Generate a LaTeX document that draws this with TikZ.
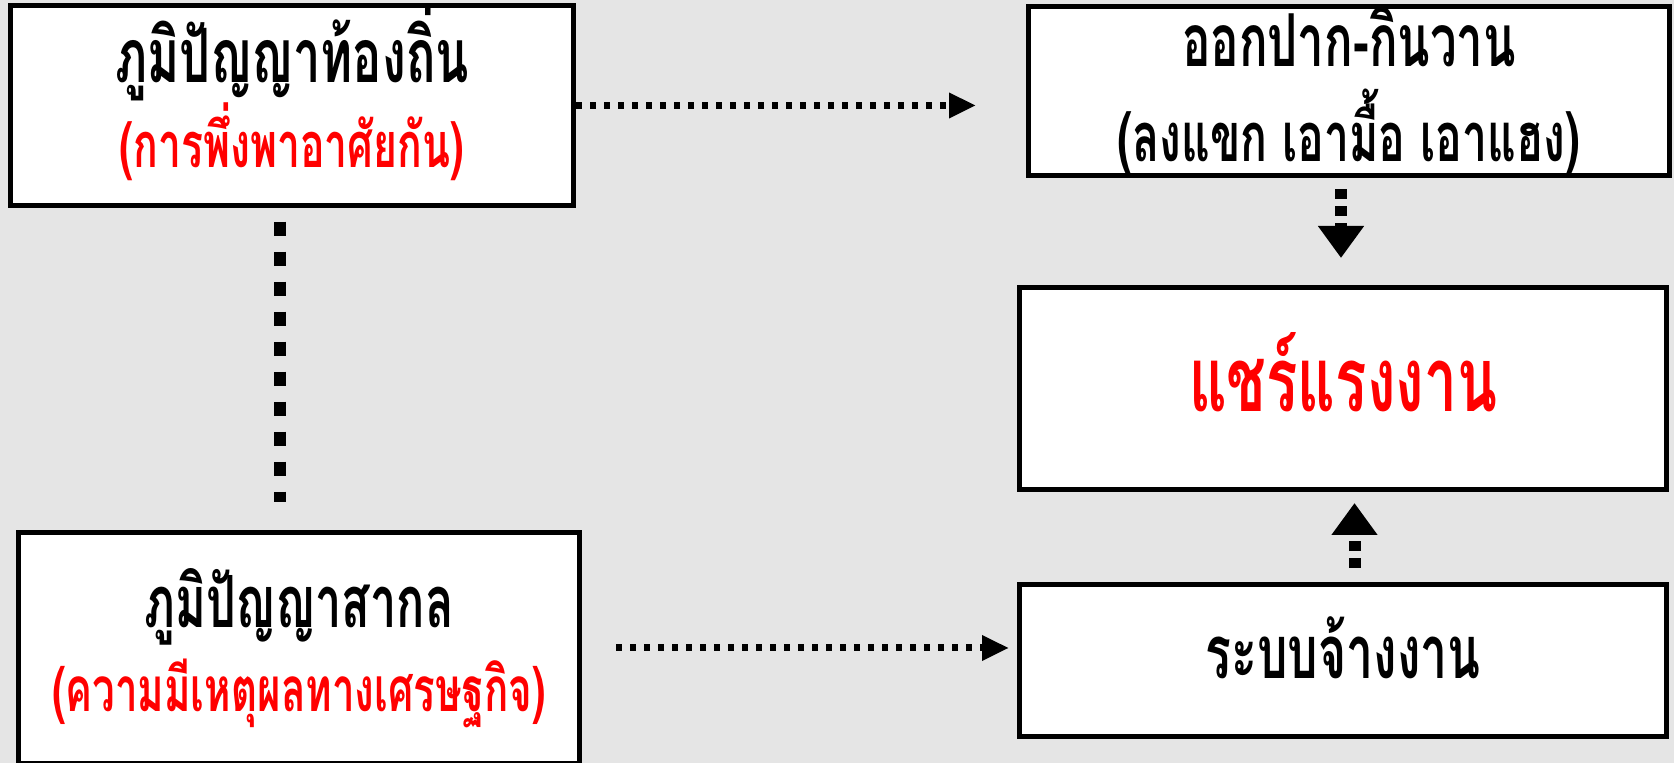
\documentclass[tikz,border=0pt]{standalone}
\usepackage{fontspec}
\newfontfamily\thaifont[Script=Thai, FakeStretch=0.65]{Loma}
\usetikzlibrary{positioning, arrows.meta}
\definecolor{bggray}{RGB}{229,229,229}

\begin{document}
\begin{tikzpicture}[x=1pt, y=1pt,
    box/.style={draw, line width=5pt, fill=white, rectangle, align=center, inner sep=0pt},
    dotflow/.style={line width=7pt, dash pattern=on 6pt off 8pt, -{Triangle[length=27pt, width=24pt]}},
    thickflow/.style={line width=12pt, dash pattern=on 10pt off 7pt, -{Triangle[length=32pt, width=44pt]}},
    link/.style={line width=12pt, dash pattern=on 14pt off 16pt}]
    \useasboundingbox (0, 0) rectangle (1674, 763);
    \fill[bggray] (0, 0) rectangle (1674, 763);

    \node (local) [box, minimum width=563pt, minimum height=196pt, font=\thaifont\bfseries\fontsize{60}{82}\selectfont] at (292, 657.5)
        {{\fontsize{75}{77}\selectfont ภูมิปัญญาท้องถิ่น}\\{\color{red}\fontsize{63}{65}\selectfont (การพึ่งพาอาศัยกัน)}\rule[-38pt]{0pt}{0pt}};
    \node (global) [box, minimum width=561pt, minimum height=231pt, font=\thaifont\bfseries\fontsize{60}{84}\selectfont] at (299, 115)
        {{\fontsize{72}{74}\selectfont ภูมิปัญญาสากล}\\{\color{red}\fontsize{62}{64}\selectfont (ความมีเหตุผลทางเศรษฐกิจ)}};
    \node (oak) [box, minimum width=641pt, minimum height=163pt, font=\thaifont\bfseries\fontsize{60}{95}\selectfont] at (1349, 672)
        {{\fontsize{73}{75}\selectfont ออกปาก-กินวาน}\\{\fontsize{68.5}{70}\selectfont (ลงแขก เอามื้อ เอาแฮง)}};
    \node (share) [box, minimum width=647pt, minimum height=202pt, text height=47pt, text depth=0pt, font=\thaifont\bfseries\fontsize{90}{92}\selectfont, text=red] at (1343, 374.5)
        {แชร์แรงงาน};
    \node (hire) [box, minimum width=647pt, minimum height=152pt, text height=36pt, text depth=0pt, font=\thaifont\bfseries\fontsize{74}{76}\selectfont] at (1343, 102.5)
        {ระบบจ้างงาน};

    % links between the boxes
    \draw [dotflow] (local.east) -- ([xshift=-50pt]oak.west |- local.east);
    \draw [dotflow] ([xshift=34pt]global.east) -- ([xshift=-8pt]hire.west |- global.east);
    \draw [link] ([shift={(-12pt,-14pt)}]local.south) -- ([shift={(-12pt,28pt)}]local.south |- global.north);
    \draw [thickflow] ([shift={(-8pt,-11pt)}]oak.south) -- ([shift={(-8pt,27pt)}]oak.south |- share.north);
    \draw [thickflow] ([shift={(11.5pt,14pt)}]hire.north) -- ([shift={(11.5pt,-11pt)}]hire.north |- share.south);
\end{tikzpicture}
\end{document}
